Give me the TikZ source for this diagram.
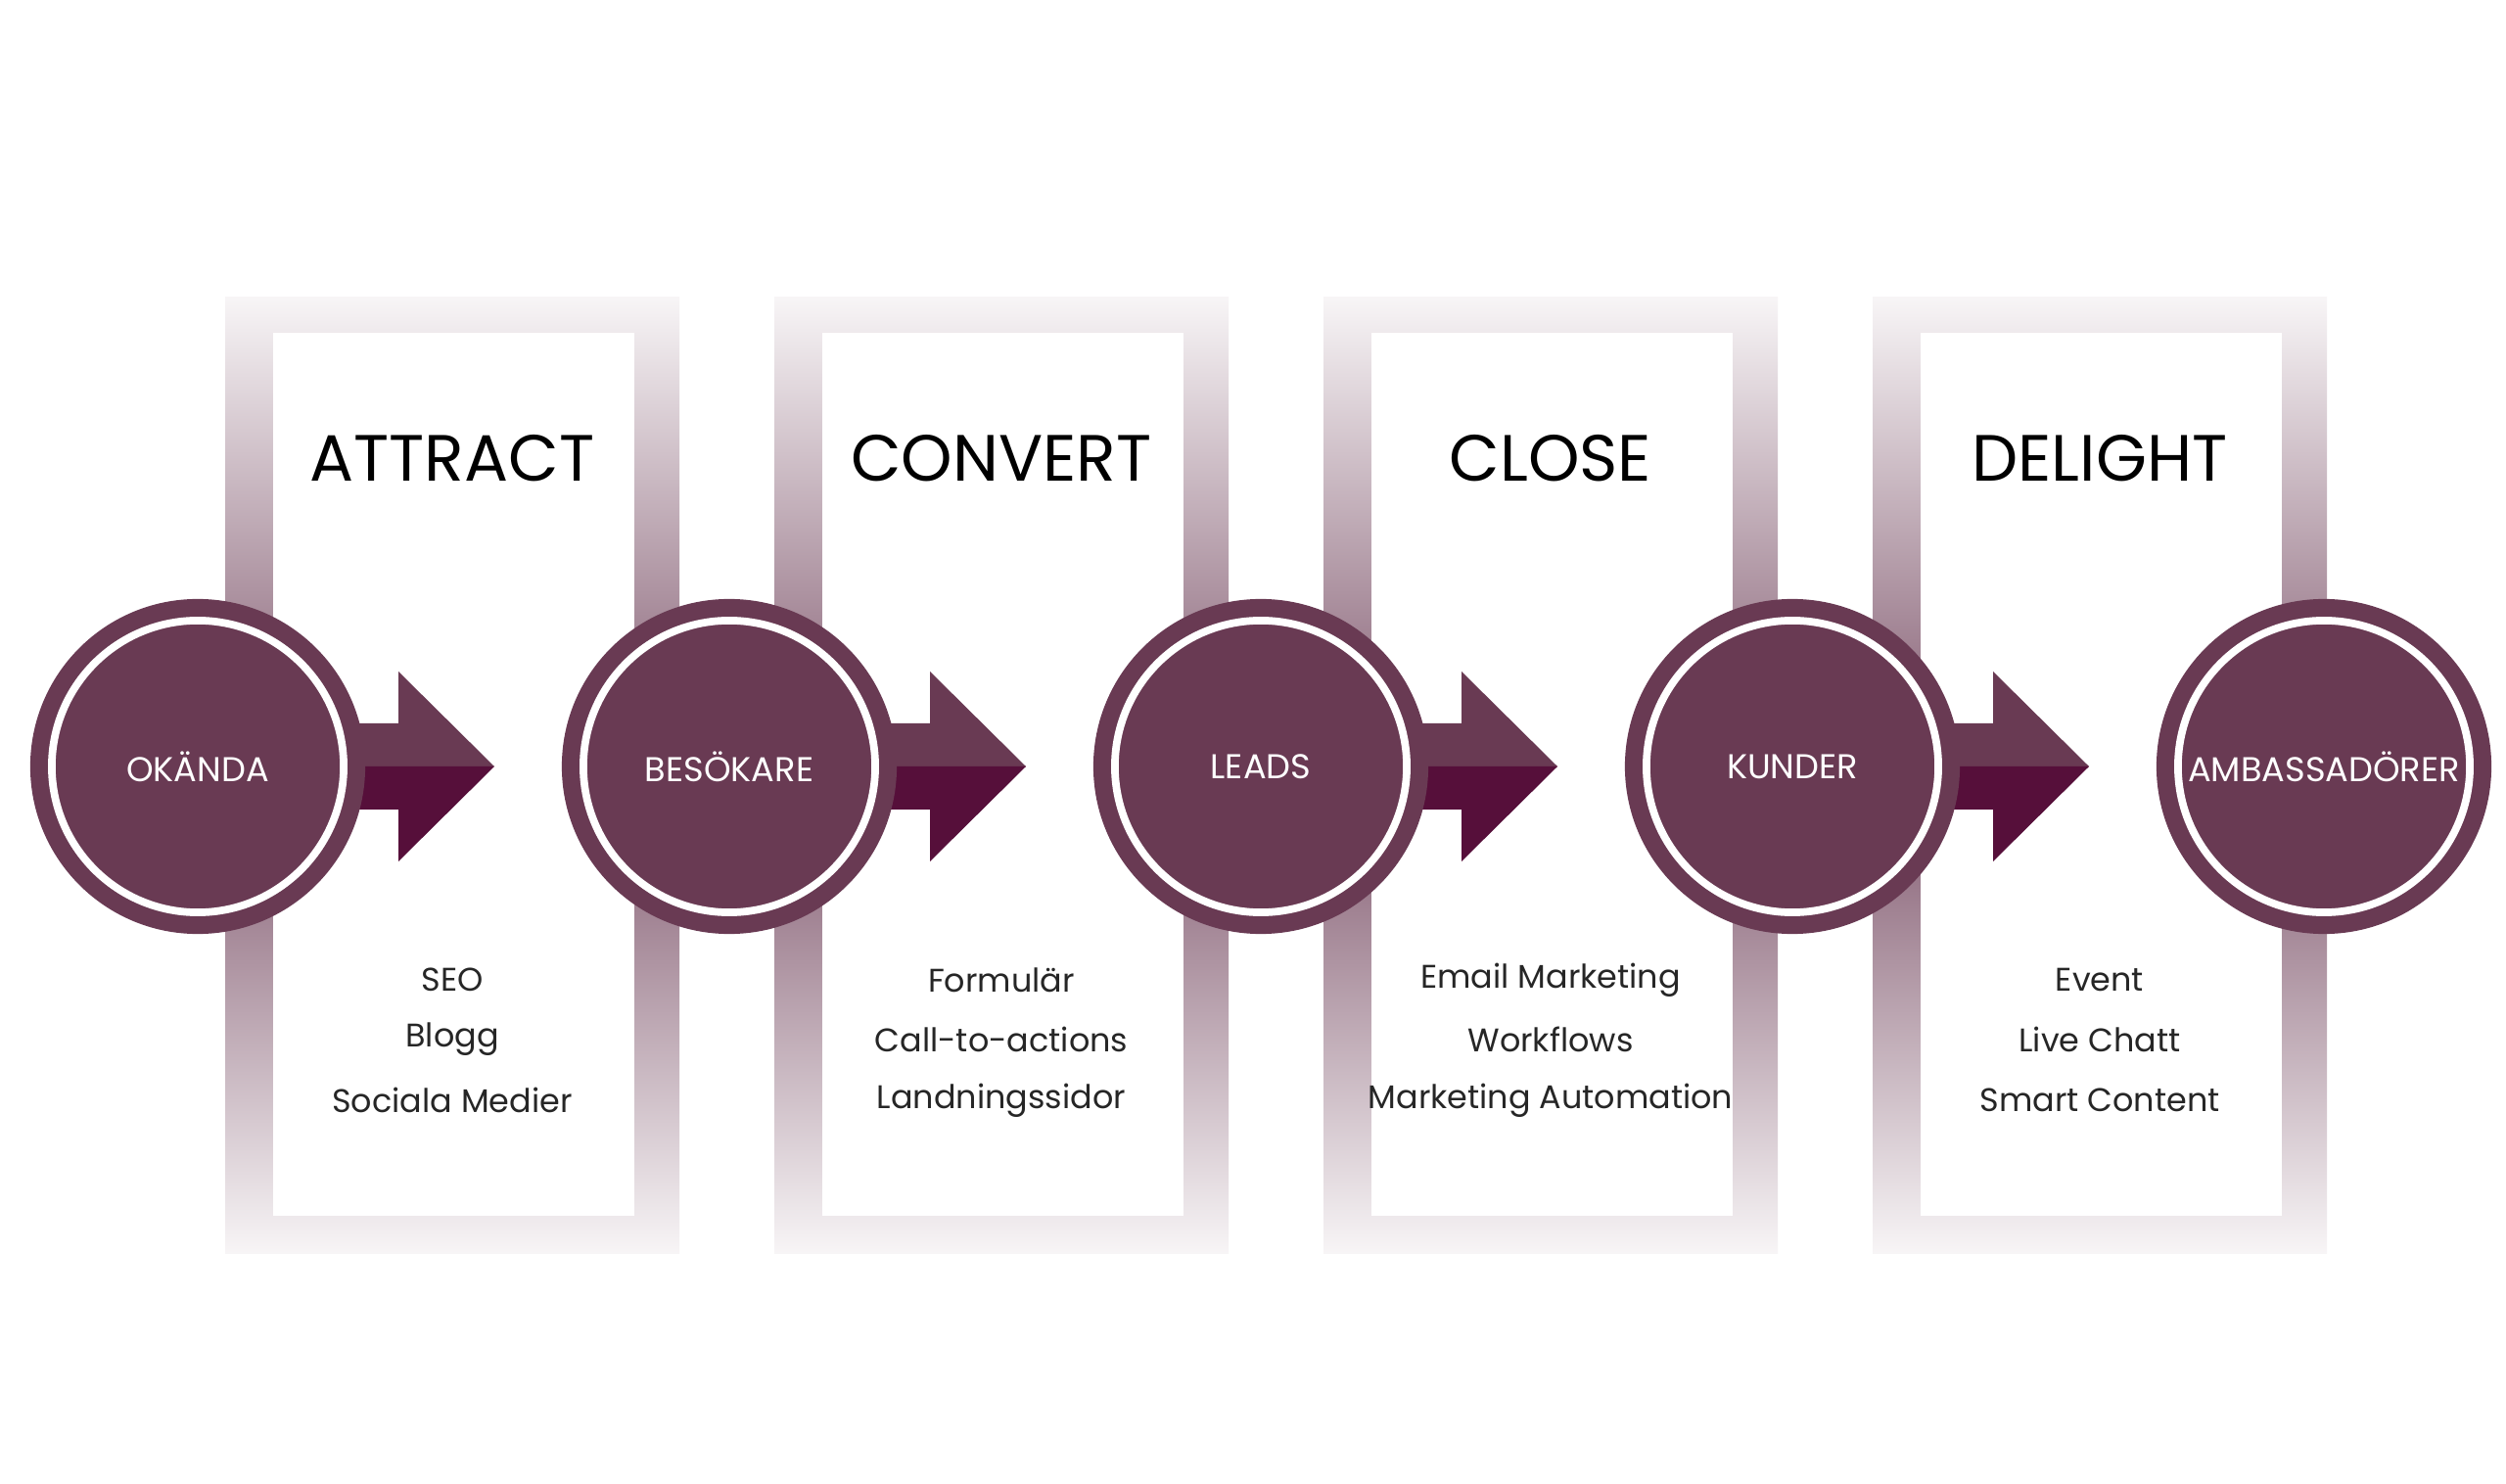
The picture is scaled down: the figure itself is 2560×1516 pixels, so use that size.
\documentclass[tikz,border=0pt]{standalone}
\usepackage{fontspec}
\setmainfont{Poppins}
\usetikzlibrary{positioning,calc}
\definecolor{plum}{HTML}{693A53}
\definecolor{plumdark}{HTML}{560F3A}
\definecolor{framec}{HTML}{7F566C}

\begin{document}
\begin{tikzpicture}[x=0.01cm, y=-0.01cm,
    frame/.style={top color=framec!6, bottom color=framec!6, middle color=framec},
    stage/.style={circle, fill=plum, minimum size=3.42cm, inner sep=0pt},
    ring/.style={circle, draw=white, line width=2.2pt, minimum size=2.98cm, inner sep=0pt, text=white, font=\fontsize{10}{12}\selectfont},
    title/.style={font=\fontsize{19}{22}\selectfont, text=black},
    item/.style={font=\fontsize{9.5}{11}\selectfont, text=black!85}
]
\useasboundingbox (0,0) rectangle (2560,1516);
\fill[white] (0,0) rectangle (2560,1516);

% Frames
\foreach \t [count=\i from 0] in {ATTRACT,CONVERT,CLOSE,DELIGHT} {
  \pgfmathsetmacro{\fx}{230+\i*561}
  \shade[frame] (\fx,304) rectangle ++(464,976);
  \fill[white] (\fx+49,340) rectangle ++(369,902);
  \node[title] (t\i) at (\fx+232,468) {\t};
}

% Tools per stage
\foreach \a/\b/\c [count=\i from 0] in {SEO/Blogg/Sociala Medier, Formulär/Call-to-actions/Landningssidor, Email Marketing/Workflows/Marketing Automation, Event/Live Chatt/Smart Content} {
  \pgfmathsetmacro{\fx}{462+\i*561}
  \node[item] (a\i) at (\fx,1001) {\a};
  \node[item] (b\i) at (\fx,1062) {\b};
  \node[item] (c\i) at (\fx,1124) {\c};
}

% Arrows
\foreach \i in {0,...,3} {
  \pgfmathsetmacro{\cx}{202+\i*543}
  \fill[plum] (\cx+120,739) -- (\cx+205,739) -- (\cx+205,686) -- (\cx+303,783) -- (\cx+120,783) -- cycle;
  \fill[plumdark] (\cx+120,783) -- (\cx+303,783) -- (\cx+205,880) -- (\cx+205,827) -- (\cx+120,827) -- cycle;
}

% Stages
\foreach \s [count=\i from 0] in {OKÄNDA,BESÖKARE,LEADS,KUNDER,AMBASSADÖRER} {
  \node[stage] (s\i) at (202+\i*543,783) {};
  \node[ring] (r\i) at (s\i) {\s};
}

\end{tikzpicture}
\end{document}
